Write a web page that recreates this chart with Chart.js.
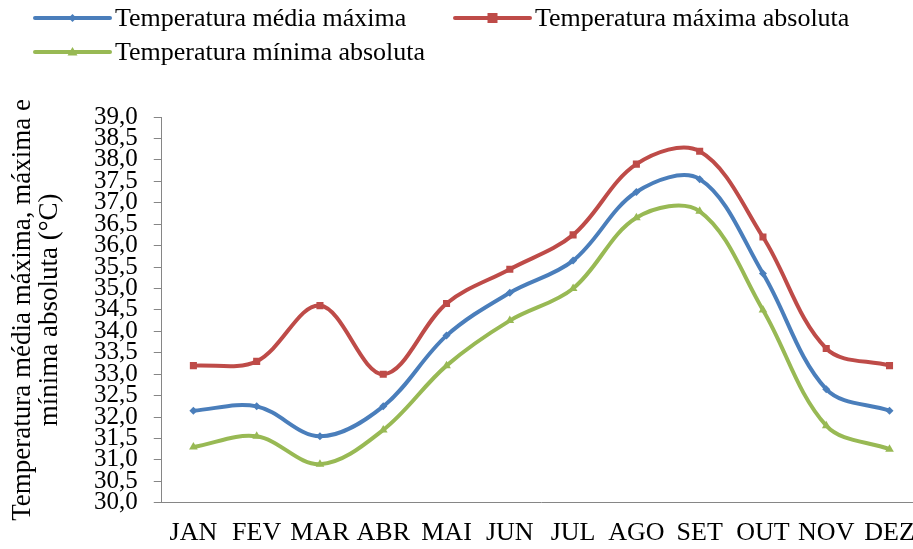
<!DOCTYPE html>
<html>
<head>
<meta charset="utf-8">
<script src="https://cdn.jsdelivr.net/npm/chart.js@4/dist/chart.umd.min.js"></script>
<style>
  html, body { margin: 0; padding: 0; background: #fff; overflow: hidden; }
  #wrap { position: relative; width: 930px; height: 564px; }
</style>
</head>
<body>
<div id="wrap"><canvas id="chart"></canvas></div>
<script>
// months
const meses = ['JAN', 'FEV', 'MAR', 'ABR', 'MAI', 'JUN', 'JUL', 'AGO', 'SET', 'OUT', 'NOV', 'DEZ'];

// series (°C)
const mediaMaxima = [32.15, 32.25, 31.55, 32.25, 33.9, 34.9, 35.65, 37.25, 37.55, 35.35, 32.65, 32.15];
const maximaAbsoluta = [33.2, 33.3, 34.6, 33.0, 34.65, 35.45, 36.25, 37.9, 38.2, 36.2, 33.6, 33.2];
const minimaAbsoluta = [31.3, 31.55, 30.9, 31.7, 33.2, 34.25, 35.0, 36.65, 36.8, 34.5, 31.8, 31.25];

// y axis
const yMin = 30;
const yMax = 39;
const yStep = 0.5;

const FONT = "'Liberation Serif', 'Times New Roman', serif";
const AXIS_COLOR = '#868686';

Chart.defaults.font.family = FONT;
Chart.defaults.color = '#000';

function drawMarker(ctx, style, x, y, r, color) {
  ctx.save();
  ctx.fillStyle = color;
  ctx.beginPath();
  if (style === 'rect') {
    ctx.rect(x - r, y - r, 2 * r, 2 * r);
  } else if (style === 'rectRot') {
    ctx.moveTo(x, y - r);
    ctx.lineTo(x + r, y);
    ctx.lineTo(x, y + r);
    ctx.lineTo(x - r, y);
    ctx.closePath();
  } else if (style === 'triangle') {
    ctx.moveTo(x, y - r);
    ctx.lineTo(x + r, y + r * 0.7);
    ctx.lineTo(x - r, y + r * 0.7);
    ctx.closePath();
  }
  ctx.fill();
  ctx.restore();
}

// legend drawn by hand so the rows sit like the original
const legendPlugin = {
  id: 'manualLegend',
  afterDraw(chart) {
    const ctx = chart.ctx;
    const slots = [[35, 18], [455, 18], [35, 52]];
    ctx.save();
    ctx.font = '26px ' + FONT;
    ctx.textBaseline = 'middle';
    ctx.fillStyle = '#000';
    chart.data.datasets.forEach((ds, i) => {
      const [x, y] = slots[i];
      ctx.strokeStyle = ds.borderColor;
      ctx.lineWidth = 4;
      ctx.lineCap = 'round';
      ctx.beginPath();
      ctx.moveTo(x, y);
      ctx.lineTo(x + 75, y);
      ctx.stroke();
      drawMarker(ctx, ds.pointStyle, x + 37.5, y, ds.pointRadius, ds.borderColor);
      ctx.fillText(ds.label, x + 80, y + 1);
    });
    ctx.restore();
  }
};

const dataset = (label, data, color, style, r) => ({
  label: label,
  data: data,
  borderColor: color,
  backgroundColor: color,
  borderWidth: 4,
  pointStyle: style,
  pointRadius: r,
  pointHoverRadius: r,
  pointBorderWidth: 0,
  tension: 0.35,
  fill: false
});

new Chart(document.getElementById('chart'), {
  type: 'line',
  data: {
    labels: meses,
    datasets: [
      dataset('Temperatura média máxima', mediaMaxima, '#4a7ebb', 'rectRot', 4),
      dataset('Temperatura máxima absoluta', maximaAbsoluta, '#be4b48', 'rect', 5),
      dataset('Temperatura mínima absoluta', minimaAbsoluta, '#98b954', 'triangle', 5)
    ]
  },
  options: {
    responsive: true,
    maintainAspectRatio: false,
    animation: false,
    layout: { padding: { top: 117, left: 9, right: 0, bottom: 0 } },
    plugins: {
      legend: { display: false },
      tooltip: { enabled: false }
    },
    scales: {
      x: {
        offset: true,
        grid: { display: false, drawTicks: false },
        border: { display: true, color: AXIS_COLOR, width: 1 },
        ticks: {
          color: '#000',
          font: { family: FONT, size: 26 },
          padding: 15,
          maxRotation: 0,
          autoSkip: false
        }
      },
      y: {
        min: yMin,
        max: yMax,
        grid: { display: true, drawOnChartArea: false, drawTicks: true, tickLength: 8, color: AXIS_COLOR },
        border: { display: true, color: AXIS_COLOR, width: 1 },
        ticks: {
          stepSize: yStep,
          autoSkip: false,
          color: '#000',
          font: { family: FONT, size: 25 },
          padding: 16,
          callback: (v) => v.toFixed(1).replace('.', ',')
        },
        title: {
          display: true,
          text: ['Temperatura média máxima, máxima e', 'mínima absoluta (°C)'],
          color: '#000',
          font: { family: FONT, size: 27, lineHeight: 1.0 },
          padding: { top: 0, bottom: 15 }
        }
      }
    }
  },
  plugins: [legendPlugin]
});
</script>
</body>
</html>
